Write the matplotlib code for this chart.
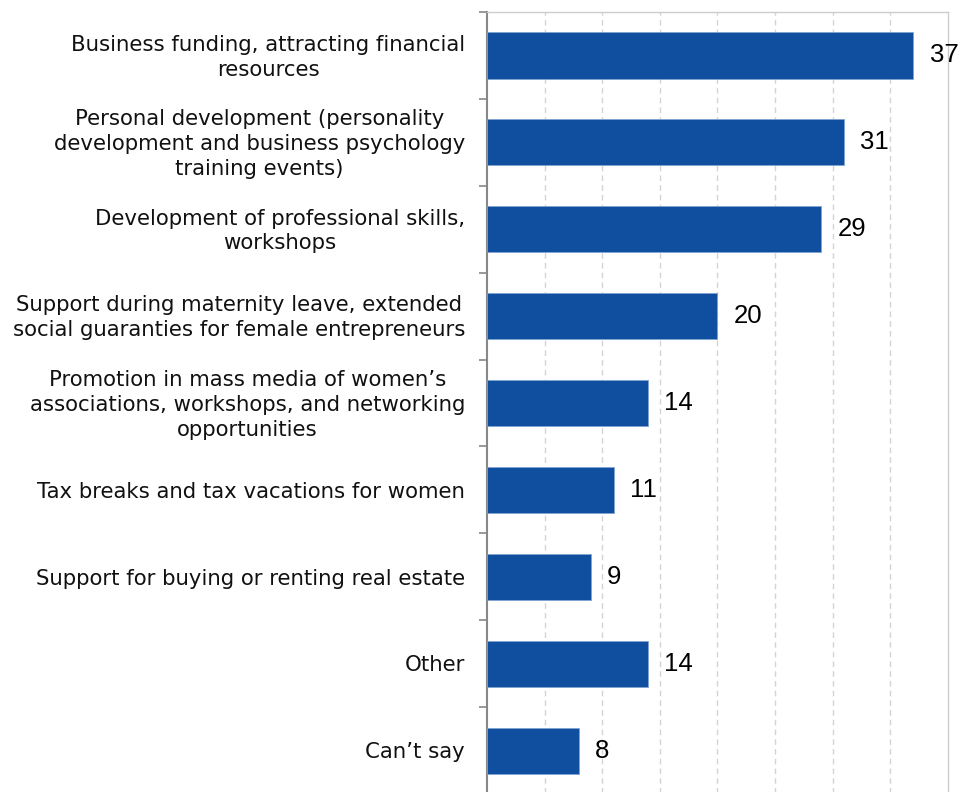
import matplotlib.pyplot as plt
import numpy as np

categories = [
    "Business funding, attracting financial\nresources",
    "Personal development (personality\ndevelopment and business psychology\ntraining events)",
    "Development of professional skills,\nworkshops",
    "Support during maternity leave, extended\nsocial guaranties for female entrepreneurs",
    "Promotion in mass media of women\u2019s\nassociations, workshops, and networking\nopportunities",
    "Tax breaks and tax vacations for women",
    "Support for buying or renting real estate",
    "Other",
    "Can\u2019t say",
]
values = [37, 31, 29, 20, 14, 11, 9, 14, 8]

bar_color = "#104fa0"

fig = plt.figure(figsize=(9.59, 7.92), dpi=100)
ax = fig.add_axes([0.5078, -0.0025, 0.4807, 0.9873])

y = np.arange(len(categories))
ax.barh(y, values, height=0.53, color=bar_color, edgecolor="#7fa3d0", linewidth=0.6, zorder=3)

for yi, v in zip(y, values):
    ax.text(v + 1.4, yi, str(v), va="center", ha="left", fontsize=18.5,
            family="Liberation Sans", color="black")

ax.set_xlim(0, 40)
ax.set_ylim(len(categories) - 0.5, -0.5)

# category labels drawn as text so multi-line entries stay centred
ax.set_yticks(np.arange(len(categories) + 1) - 0.5)
ax.set_yticklabels([])
for yi, lab in zip(y, categories):
    ax.text(-1.9, yi + 0.02, lab, ha="right", va="center", multialignment="center",
            fontsize=15.3, family="DejaVu Sans", color="#111111",
            transform=ax.transData, linespacing=1.3)

ax.set_xticks(np.arange(5, 40, 5))
ax.tick_params(axis="x", length=0, labelbottom=False)
ax.tick_params(axis="y", length=6, width=1.2, color="#888888", direction="out")
ax.grid(axis="x", color="#d4d4d4", linestyle=(0, (4, 3)), linewidth=1.0, zorder=0)

for side in ["top", "right", "bottom"]:
    ax.spines[side].set_color("#cccccc")
    ax.spines[side].set_linewidth(1.0)
ax.spines["left"].set_color("#888888")
ax.spines["left"].set_linewidth(1.5)

fig.savefig("out.png", dpi=100)
